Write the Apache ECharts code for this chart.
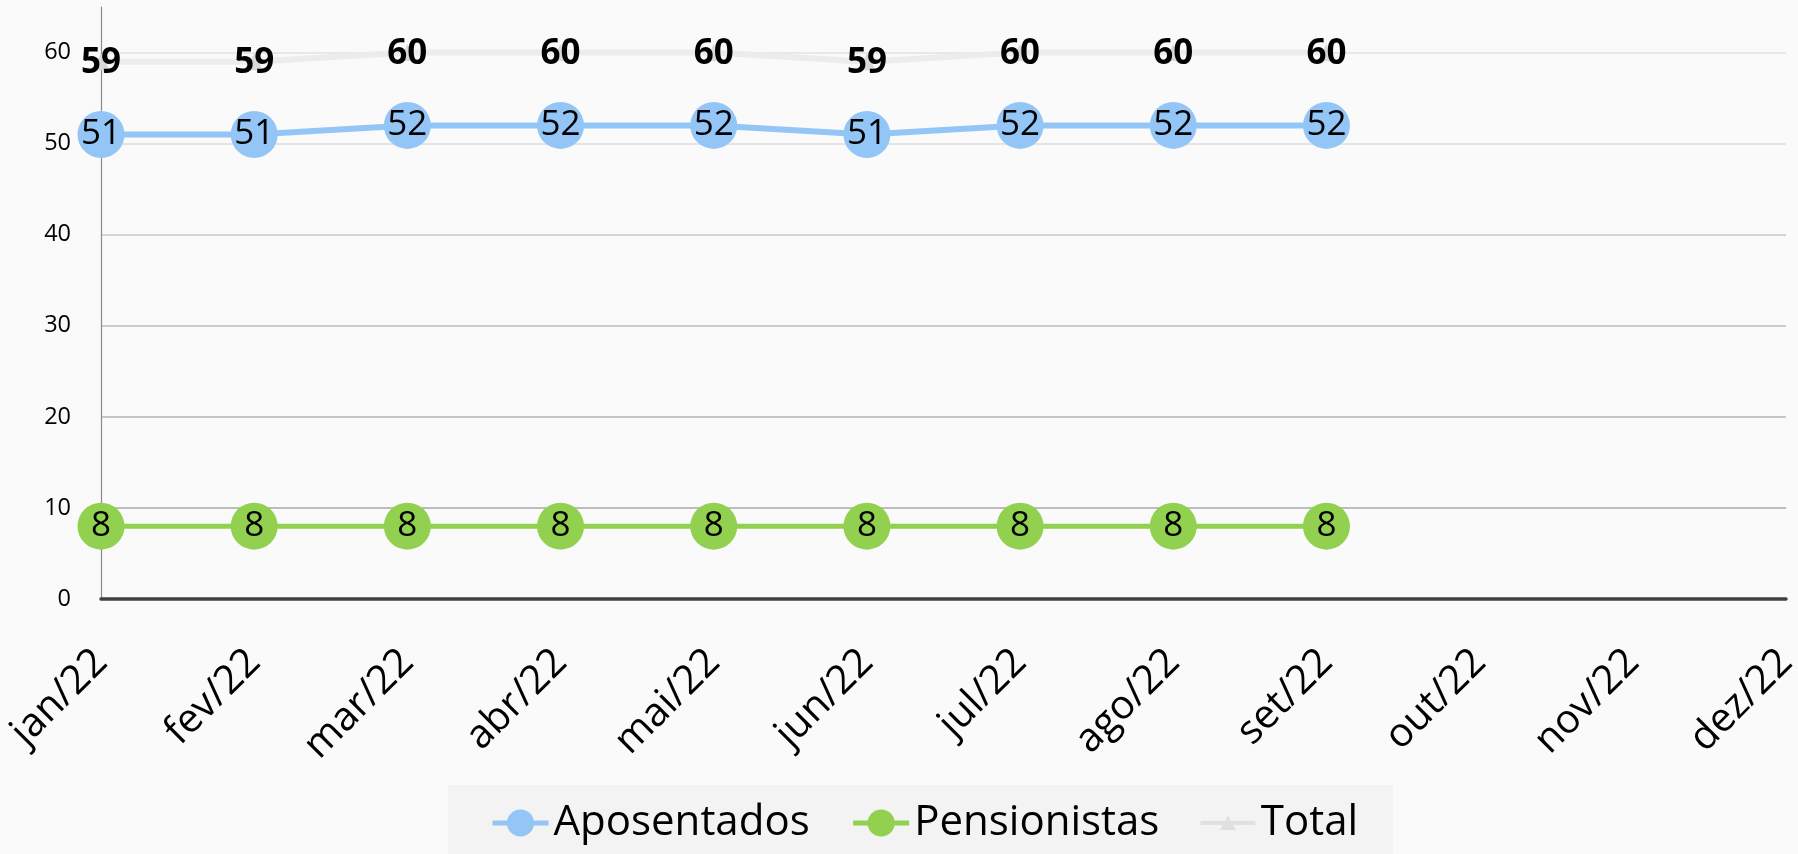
<!DOCTYPE html>
<html>
<head>
<meta charset="utf-8">
<script src="https://cdn.jsdelivr.net/npm/echarts@6/dist/echarts.min.js"></script>
<style>
  html, body { margin: 0; padding: 0; background: #fafafa; }
  #chart { width: 1798px; height: 854px; }
</style>
</head>
<body>
<div id="chart"></div>
<script>
const categories = ['jan/22','fev/22','mar/22','abr/22','mai/22','jun/22','jul/22','ago/22','set/22','out/22','nov/22','dez/22'];
const aposentados = [51, 51, 52, 52, 52, 51, 52, 52, 52];
const pensionistas = [8, 8, 8, 8, 8, 8, 8, 8, 8];
const total = [59, 59, 60, 60, 60, 59, 60, 60, 60];
const seriesNames = ['Aposentados', 'Pensionistas', 'Total'];

const FONT = 'Open Sans';
const chart = echarts.init(document.getElementById('chart'), null, { renderer: 'canvas' });

const totalIcon = 'path://M0,0 L0.001,0 L0.001,0.001 Z M55,34 L54.999,34 L54.999,33.999 Z ' +
  'M0,15 L55,15 L55,19 L0,19 Z M27.5,9.5 L35.5,24 L19.5,24 Z';

chart.setOption({
  backgroundColor: '#fafafa',
  animation: false,
  textStyle: { fontFamily: FONT },
  graphic: [{
    type: 'rect', left: 448, top: 785, z: -10,
    shape: { width: 945, height: 69 },
    style: { fill: '#f3f3f3' }
  }],
  grid: { left: 101, right: 12, top: 7, bottom: 255, containLabel: false, outerBoundsMode: 'none' },
  legend: {
    left: 490, top: 802, padding: 0,
    itemWidth: 56, itemHeight: 34, itemGap: 41,
    textStyle: { fontFamily: FONT, fontSize: 42, color: '#000' },
    lineStyle: { width: 5 },
    data: [
      { name: 'Aposentados' },
      { name: 'Pensionistas' },
      { name: 'Total', icon: totalIcon, itemStyle: { color: '#e0e0e0' } }
    ]
  },
  xAxis: {
    type: 'category',
    data: categories,
    boundaryGap: false,
    axisLine: { show: true, lineStyle: { color: '#404040', width: 3.5 } },
    axisTick: { show: false },
    axisLabel: {
      interval: 0, rotate: 45, margin: 57,
      fontFamily: FONT, fontSize: 40, color: '#000'
    },
    splitLine: { show: false }
  },
  yAxis: {
    type: 'value',
    min: 0, max: 65, interval: 10,
    axisLine: { show: true, lineStyle: { color: '#8a8a8a', width: 1.2 } },
    axisTick: { show: false },
    axisLabel: {
      margin: 30, fontFamily: FONT, fontSize: 23.5, color: '#000',
      showMaxLabel: false
    },
    splitLine: {
      show: true, showMinLine: false, showMaxLine: false,
      lineStyle: { color: ['#a8a8a8', '#b4b4b4', '#bcbcbc', '#c6c6c6', '#dcdcdc', '#e2e2e2'], width: 1.5 }
    }
  },
  series: [
    {
      name: seriesNames[0], type: 'line', data: aposentados, z: 3,
      symbol: 'circle', symbolSize: 47,
      lineStyle: { color: '#93c6f6', width: 6 },
      itemStyle: { color: '#93c6f6' },
      label: { show: true, position: 'inside', fontFamily: FONT, fontSize: 35, color: '#000' }
    },
    {
      name: seriesNames[1], type: 'line', data: pensionistas, z: 3,
      symbol: 'circle', symbolSize: 47,
      lineStyle: { color: '#92d050', width: 5 },
      itemStyle: { color: '#92d050' },
      label: { show: true, position: 'inside', fontFamily: FONT, fontSize: 35, color: '#000' }
    },
    {
      name: seriesNames[2], type: 'line', data: total, z: 2,
      symbol: 'triangle', symbolSize: 17,
      lineStyle: { color: '#ececec', width: 6 },
      itemStyle: { color: '#d9d9d9' },
      label: { show: true, position: 'inside', offset: [0, 1], fontFamily: FONT, fontSize: 35, fontWeight: 'bold', color: '#000' }
    }
  ]
});
</script>
</body>
</html>
